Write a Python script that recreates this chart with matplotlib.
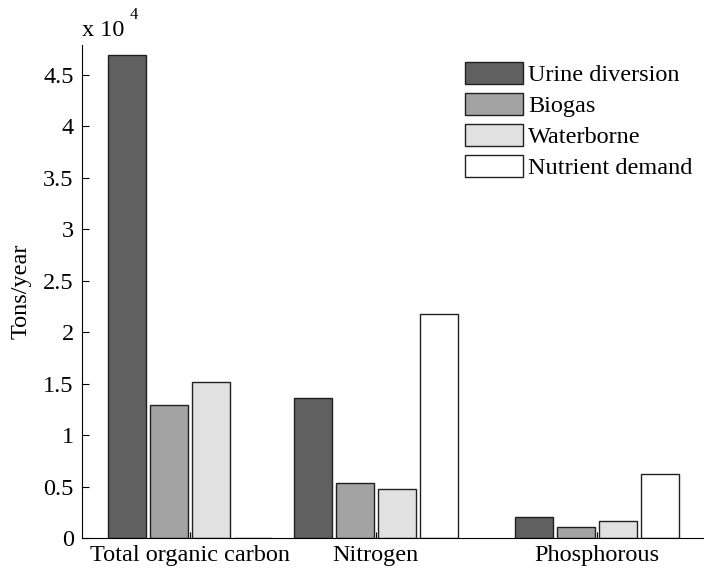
import matplotlib
matplotlib.use('Agg')
import matplotlib.pyplot as plt
import numpy as np
from matplotlib.ticker import FuncFormatter

plt.rcParams['font.family'] = ['Liberation Serif', 'DejaVu Serif']

# data (tons/year)
categories = ['Total organic carbon', 'Nitrogen', 'Phosphorous']
series_names = ['Urine diversion', 'Biogas', 'Waterborne', 'Nutrient demand']
urine = [46900, 13650, 2000]
biogas = [12950, 5350, 1050]
waterborne = [15150, 4800, 1700]
nutrient = [0, 21800, 6200]
colors = ['#606060', '#a3a3a3', '#e1e1e1', '#ffffff']

fig = plt.figure(figsize=(7.04, 5.72), dpi=100)
ax = fig.add_axes([82 / 704, 34 / 572, 1 - 82 / 704, 493 / 572])

# group centres are not evenly spaced in the original figure
group_x = np.array([1.0, 2.0, 3.188])
width = 0.204
step = 0.226
all_series = [urine, biogas, waterborne, nutrient]
for i, (vals, name, c) in enumerate(zip(all_series, series_names, colors)):
    off = (i - 1.5) * step
    ax.bar(group_x + off, vals, width, color=c, edgecolor='#202020',
           linewidth=1.0, label=name, zorder=2)

ax.set_xlim(0.419, 3.765)
ax.set_ylim(0, 47900)
ax.set_yticks(np.arange(0, 45001, 5000))
ax.yaxis.set_major_formatter(FuncFormatter(lambda v, p: '%g' % (v / 1e4)))
ax.set_xticks(group_x)
ax.set_xticklabels(categories)

ax.spines['top'].set_visible(False)
ax.spines['right'].set_visible(False)
fs = 17.5
ax.tick_params(direction='in', length=5, width=0.8, labelsize=fs, pad=6)
ax.tick_params(axis='x', length=4, pad=5)

ax.set_ylabel('Tons/year', fontsize=fs, labelpad=8)

fig.text(82 / 704, 1 - 30 / 572, 'x 10', fontsize=fs, ha='left', va='center')
fig.text(130 / 704, 1 - 15 / 572, '4', fontsize=12, ha='left', va='center')

ax.legend(loc='upper left', bbox_to_anchor=(465 / 704, 1 - 62 / 572),
          bbox_transform=fig.transFigure, frameon=False,
          fontsize=fs, handlelength=2.4, handleheight=1.0,
          handletextpad=0.2, labelspacing=0.28, borderaxespad=0, borderpad=0)

fig.savefig('out.png', dpi=100)
